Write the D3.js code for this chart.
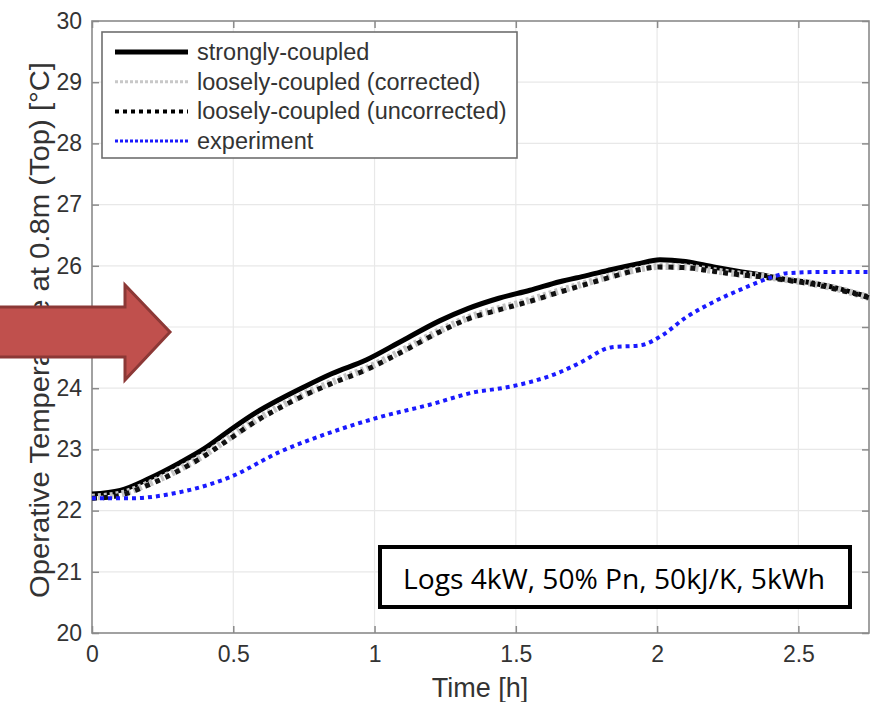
<!DOCTYPE html>
<html>
<head>
<meta charset="utf-8">
<script src="https://cdn.jsdelivr.net/npm/d3@7"></script>
<style>
  body { margin: 0; background: #fff; }
  svg { display: block; }
</style>
</head>
<body>
<div id="chart"></div>
<script>
// time axis (hours) for the simulated curves
var simTime = [0, 0.1, 0.2, 0.31, 0.4, 0.49, 0.58, 0.665, 0.75, 0.85, 0.97, 1.1, 1.23, 1.33, 1.44,
  1.55, 1.655, 1.75, 1.84, 1.93, 2.01, 2.1, 2.2, 2.3, 2.37, 2.45, 2.55, 2.65, 2.75];
var strongly = [22.27, 22.33, 22.52, 22.78, 23.02, 23.32, 23.6, 23.82, 24.02, 24.24, 24.46, 24.78, 25.1, 25.3, 25.47,
  25.6, 25.74, 25.84, 25.94, 26.03, 26.1, 26.07, 25.98, 25.9, 25.85, 25.78, 25.72, 25.62, 25.49];
var looseCorrected = [22.22, 22.27, 22.44, 22.68, 22.92, 23.2, 23.48, 23.7, 23.9, 24.1, 24.32, 24.62, 24.94, 25.15, 25.3,
  25.44, 25.59, 25.72, 25.84, 25.94, 25.99, 25.98, 25.92, 25.86, 25.83, 25.78, 25.71, 25.61, 25.48];
var looseUncorrected = [22.2, 22.25, 22.42, 22.66, 22.9, 23.18, 23.46, 23.68, 23.88, 24.08, 24.3, 24.6, 24.92, 25.13, 25.28,
  25.42, 25.57, 25.7, 25.82, 25.93, 25.98, 25.97, 25.91, 25.85, 25.82, 25.77, 25.7, 25.6, 25.48];

// measured data
var expTime = [0, 0.13, 0.31, 0.49, 0.665, 0.84, 1.02, 1.195, 1.36, 1.45, 1.55, 1.655, 1.725, 1.84, 1.94,
  2.02, 2.1, 2.2, 2.31, 2.41, 2.46, 2.6, 2.75];
var experiment = [22.2, 22.2, 22.3, 22.55, 22.96, 23.27, 23.53, 23.73, 23.94, 24.0, 24.1, 24.26, 24.41, 24.67, 24.7,
  24.87, 25.15, 25.41, 25.64, 25.82, 25.88, 25.9, 25.9];

var xTicks = [0, 0.5, 1, 1.5, 2, 2.5];
var yTicks = [20, 21, 22, 23, 24, 25, 26, 27, 28, 29, 30];
var legendLabels = ["strongly-coupled", "loosely-coupled (corrected)", "loosely-coupled (uncorrected)", "experiment"];
var note = "Logs 4kW, 50% Pn, 50kJ/K, 5kWh";

var width = 872, height = 702;
var box = { left: 92, right: 869, top: 21, bottom: 633 };

var svg = d3.select("#chart").append("svg")
  .attr("width", width)
  .attr("height", height);

var x = d3.scaleLinear().domain([0, 2.75]).range([box.left, box.right]);
var y = d3.scaleLinear().domain([20, 30]).range([box.bottom, box.top]);

var axisColor = "#8a8a8a";
var font = "'Liberation Sans', Arial, sans-serif";

// grid
var grid = svg.append("g").attr("stroke", "#e8e8e8").attr("stroke-width", 1.2);
grid.selectAll(".gx").data(xTicks.slice(1)).enter().append("line")
  .attr("x1", d => x(d)).attr("x2", d => x(d))
  .attr("y1", box.top).attr("y2", box.bottom);
grid.selectAll(".gy").data(yTicks.slice(1, -1)).enter().append("line")
  .attr("x1", box.left).attr("x2", box.right)
  .attr("y1", d => y(d)).attr("y2", d => y(d));

// axes (ticks pointing inwards, mirrored on top/right)
function styleAxis(g) {
  g.select(".domain").remove();
  g.selectAll(".tick line").attr("stroke", axisColor).attr("stroke-width", 1.5);
  g.selectAll(".tick text").attr("fill", "#333").style("font-family", font).style("font-size", "23px");
}
svg.append("g").attr("transform", "translate(0," + box.bottom + ")")
  .call(d3.axisBottom(x).tickValues(xTicks).tickSize(-7).tickPadding(13).tickFormat(d3.format("")))
  .call(styleAxis);
svg.append("g").attr("transform", "translate(0," + box.top + ")")
  .call(d3.axisTop(x).tickValues(xTicks).tickSize(-7).tickFormat(""))
  .call(styleAxis);
svg.append("g").attr("transform", "translate(" + box.left + ",0)")
  .call(d3.axisLeft(y).tickValues(yTicks).tickSize(-7).tickPadding(10).tickFormat(d3.format("d")))
  .call(styleAxis);
svg.append("g").attr("transform", "translate(" + box.right + ",0)")
  .call(d3.axisRight(y).tickValues(yTicks).tickSize(-7).tickFormat(""))
  .call(styleAxis);

svg.append("rect")
  .attr("x", box.left).attr("y", box.top)
  .attr("width", box.right - box.left).attr("height", box.bottom - box.top)
  .attr("fill", "none").attr("stroke", axisColor).attr("stroke-width", 1.6);

// series
var line = d3.line().x(d => x(d[0])).y(d => y(d[1])).curve(d3.curveMonotoneX);
var series = [
  { time: simTime, vals: strongly, color: "#000", width: 5, dash: null },
  { time: simTime, vals: looseCorrected, color: "#c4c4c4", width: 7, dash: "3,3" },
  { time: simTime, vals: looseUncorrected, color: "#111", width: 5, dash: "5,6" },
  { time: expTime, vals: experiment, color: "#1a1aff", width: 4, dash: "4,4" }
];
var plot = svg.append("g");
series.forEach(s => {
  plot.append("path")
    .datum(d3.zip(s.time, s.vals))
    .attr("fill", "none")
    .attr("stroke", s.color)
    .attr("stroke-width", s.width)
    .attr("stroke-dasharray", s.dash)
    .attr("d", line);
});

// legend
var legend = svg.append("g");
legend.append("rect")
  .attr("x", 102).attr("y", 32).attr("width", 415).attr("height", 126)
  .attr("fill", "#fff").attr("stroke", "#6e6e6e").attr("stroke-width", 1.6);
var legendStyle = [
  { color: "#000", width: 5, dash: null },
  { color: "#c8c8c8", width: 3, dash: "3,2" },
  { color: "#000", width: 4, dash: "4,4" },
  { color: "#1a1aff", width: 3, dash: "3,2" }
];
legendLabels.forEach((lab, i) => {
  var ly = 52 + i * 29.7;
  legend.append("line")
    .attr("x1", 115).attr("x2", 188).attr("y1", ly).attr("y2", ly)
    .attr("stroke", legendStyle[i].color)
    .attr("stroke-width", legendStyle[i].width)
    .attr("stroke-dasharray", legendStyle[i].dash);
  legend.append("text")
    .attr("x", 197).attr("y", ly + 8)
    .attr("fill", "#333")
    .style("font-family", font).style("font-size", "23.5px")
    .text(lab);
});

// axis labels
svg.append("text")
  .attr("x", 480).attr("y", 697)
  .attr("text-anchor", "middle")
  .attr("fill", "#333")
  .style("font-family", font).style("font-size", "27px")
  .text("Time [h]");
svg.append("text")
  .attr("transform", "translate(49,330) rotate(-90)")
  .attr("text-anchor", "middle")
  .attr("textLength", 536).attr("lengthAdjust", "spacingAndGlyphs")
  .attr("fill", "#333")
  .style("font-family", font).style("font-size", "27px")
  .text("Operative Temperature at 0.8m (Top) [°C]");

// red arrow overlay
svg.append("path")
  .attr("d", "M-5,307 L125,307 L125,285 L170,332 L125,380 L125,357 L-5,357 Z")
  .attr("fill", "#c0504d")
  .attr("stroke", "#8c3836")
  .attr("stroke-width", 3)
  .attr("stroke-linejoin", "miter");

// annotation box
svg.append("rect")
  .attr("x", 380).attr("y", 547).attr("width", 470).attr("height", 60)
  .attr("fill", "#fff").attr("stroke", "#000").attr("stroke-width", 4);
svg.append("text")
  .attr("x", 614).attr("y", 589)
  .attr("text-anchor", "middle")
  .attr("textLength", 422).attr("lengthAdjust", "spacingAndGlyphs")
  .attr("fill", "#000")
  .style("font-family", "'Open Sans', Lato, sans-serif").style("font-size", "27px")
  .text(note);
</script>
</body>
</html>
